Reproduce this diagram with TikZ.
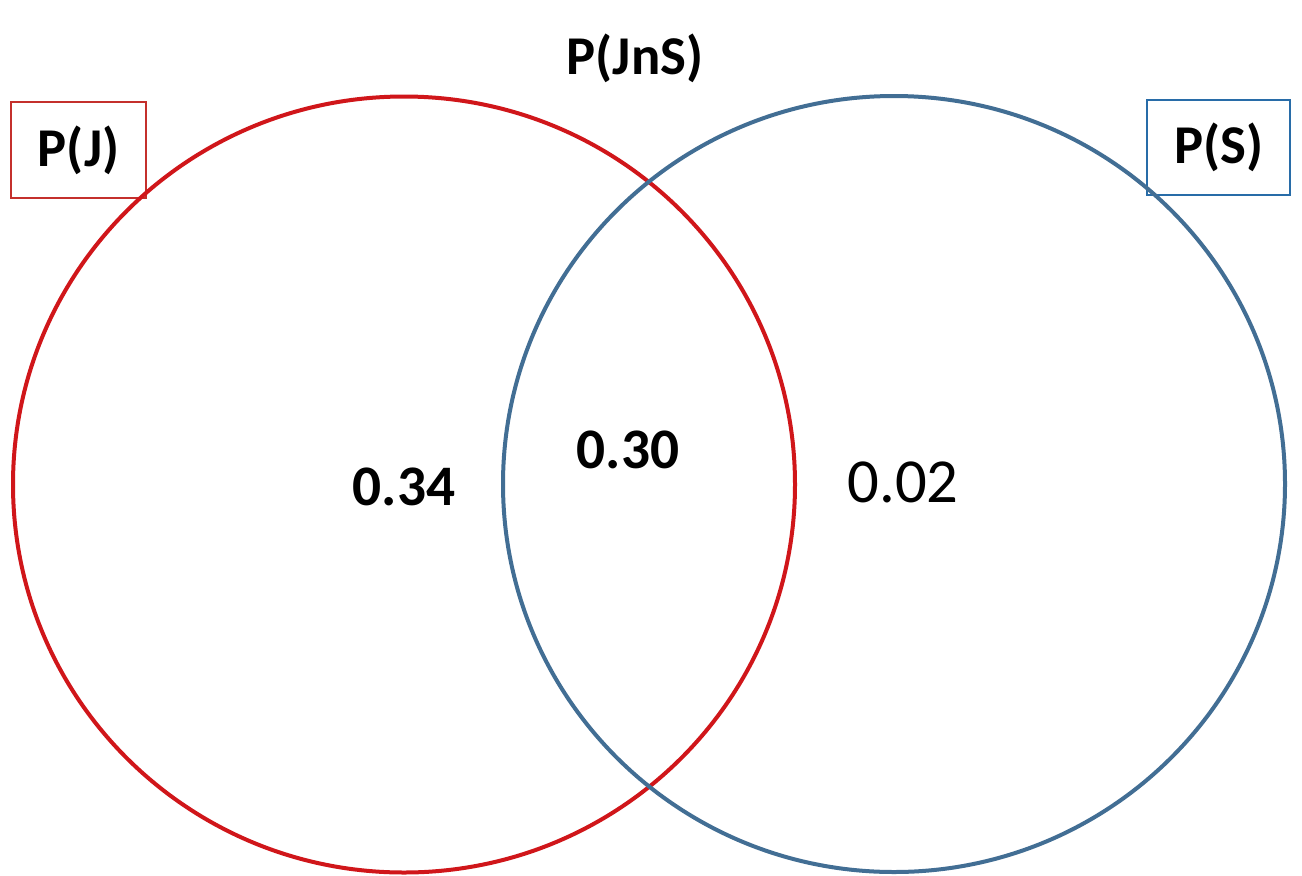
\documentclass[tikz,border=0pt]{standalone}
\usepackage{fontspec}
\usetikzlibrary{shapes.geometric}
\setmainfont{Carlito}
\definecolor{redcirc}{RGB}{208,22,26}
\definecolor{redbox}{RGB}{196,48,44}
\definecolor{bluecirc}{RGB}{66,110,148}
\definecolor{bluebox}{RGB}{40,108,168}
\begin{document}
\begin{tikzpicture}[x=0.75pt,y=-0.75pt,
  lbl/.style={font=\fontsize{41}{48}\selectfont\bfseries, inner sep=0pt},
  num/.style={font=\fontsize{43}{50}\selectfont\bfseries, inner sep=0pt},
  numr/.style={font=\fontsize{47}{54}\selectfont, inner sep=0pt},
  setshape/.style={ellipse, line width=3pt, inner sep=0pt, minimum width=782*0.75pt, minimum height=776*0.75pt},
  labbox/.style={inner sep=0pt, line width=1.9pt}]
\useasboundingbox[fill=white] (0,0) rectangle (1302,875);
% label boxes
\node[labbox, draw=redbox, minimum width=135*0.75pt, minimum height=96*0.75pt] (bj) at (78.5,150) {};
\node[labbox, draw=bluebox, minimum width=143*0.75pt, minimum height=95*0.75pt] (bs) at (1218.5,147.5) {};
\node[lbl] (tj) at (bj.center) {P(J)};
\node[lbl] (ts) at (bs.center) {P(S)};
% circles
\node[setshape, draw=redcirc] (cj) at (404,484.5) {};
\node[setshape, draw=bluecirc] (cs) at (894,484) {};
% texts
\node[lbl] (tjs) at (635,58) {P(JnS)};
\node[num] (a) at (404,487) {0.34};
\node[num] (b) at (628,450) {0.30};
\node[numr] (c) at (903,482) {0.02};
\end{tikzpicture}
\end{document}
